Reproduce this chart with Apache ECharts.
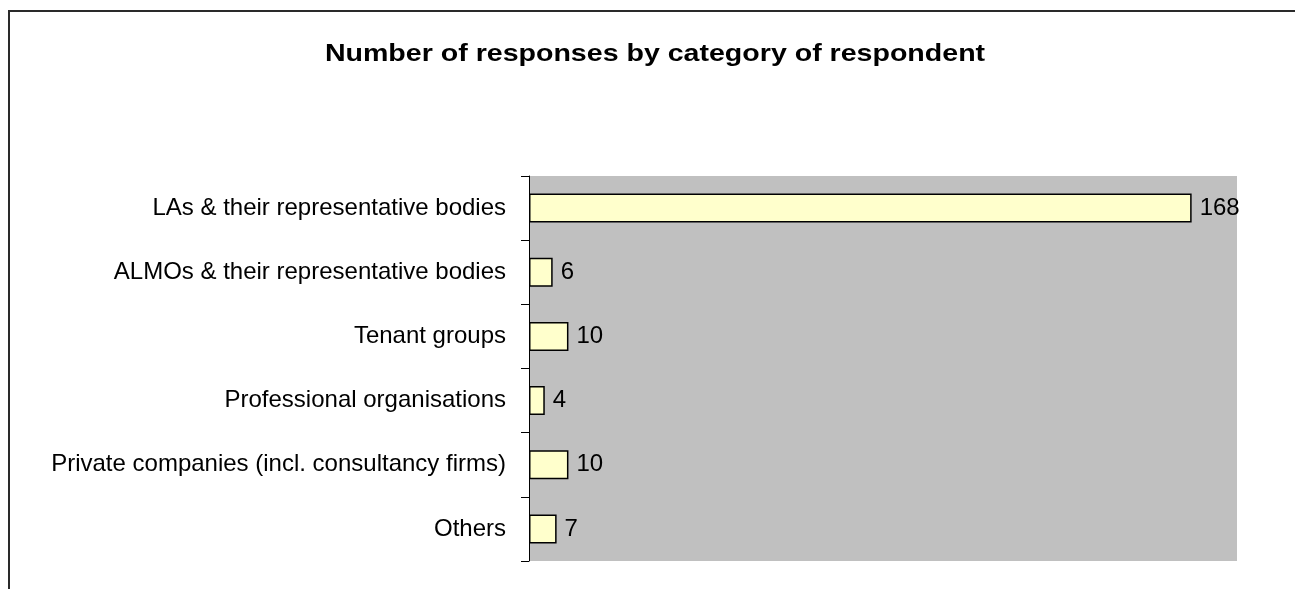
<!DOCTYPE html>
<html>
<head>
<meta charset="utf-8">
<script src="https://cdn.jsdelivr.net/npm/echarts@6/dist/echarts.min.js"></script>
<style>
  html, body { margin: 0; padding: 0; background: #fff; }
  #chart { width: 1295px; height: 589px; }
</style>
</head>
<body>
<div id="chart"></div>
<script>
// Respondent categories, top to bottom
const categories = [
  'LAs & their representative bodies',
  'ALMOs & their representative bodies',
  'Tenant groups',
  'Professional organisations',
  'Private companies (incl. consultancy firms)',
  'Others'
];
// Number of responses in each category
const responses = [168, 6, 10, 4, 10, 7];

const FONT = 'Arial, "Liberation Sans", sans-serif';

const chart = echarts.init(document.getElementById('chart'), null, { renderer: 'canvas' });
chart.setOption({
  animation: false,
  backgroundColor: '#ffffff',
  graphic: [
    {
      // outer chart frame
      type: 'rect',
      shape: { x: 9, y: 11, width: 1400, height: 700 },
      style: { fill: 'none', stroke: '#2a2a2a', lineWidth: 2 },
      silent: true
    },
    {
      // chart title, slightly widened
      type: 'text',
      x: 655, y: 54,
      scaleX: 1.19,
      style: {
        text: 'Number of responses by category of respondent',
        x: 0, y: 0,
        align: 'center', verticalAlign: 'middle',
        font: 'bold 24px ' + FONT,
        fill: '#000'
      },
      silent: true
    }
  ],
  grid: {
    left: 529, top: 176, right: 58, bottom: 28,
    show: true, backgroundColor: '#C0C0C0', borderWidth: 0
  },
  xAxis: {
    type: 'value', min: 0, max: 179.5,
    show: false, splitLine: { show: false }
  },
  yAxis: {
    type: 'category',
    data: categories,
    inverse: true,
    axisLine: { show: true, lineStyle: { color: '#000', width: 1 } },
    axisTick: { show: true, length: 8, lineStyle: { color: '#000' } },
    axisLabel: { margin: 23, fontFamily: FONT, fontSize: 24, color: '#000' }
  },
  series: [{
    type: 'bar',
    data: responses,
    barWidth: 29,
    itemStyle: { color: '#FFFFCC', borderColor: '#000', borderWidth: 1.5 },
    label: {
      show: true, position: 'right', distance: 8,
      fontFamily: FONT, fontSize: 24, color: '#000'
    }
  }]
});
</script>
</body>
</html>
